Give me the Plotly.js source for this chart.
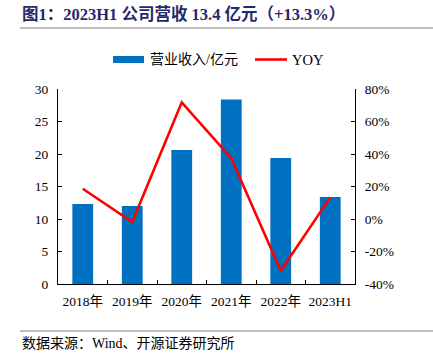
<!DOCTYPE html>
<html>
<head>
<meta charset="utf-8">
<script src="https://cdn.plot.ly/plotly-3.0.1.min.js"></script>
<style>html,body{margin:0;padding:0;background:#fff;}#chart{width:433px;height:357px;}</style>
</head>
<body>
<div id="chart"></div>
<script>
const categories = ["2018年", "2019年", "2020年", "2021年", "2022年", "2023H1"];
const revenue = [12.3, 12.0, 20.6, 28.4, 19.4, 13.4];
const yoy = [18.6, -1.9, 71.8, 37.4, -31.8, 13.3];
const leftTicks = [0, 5, 10, 15, 20, 25, 30];
const rightTicks = [-40, -20, 0, 20, 40, 60, 80];
const rightTickLabels = ["-40%", "-20%", "0%", "20%", "40%", "60%", "80%"];
const seriesNames = ["营业收入/亿元", "YOY"];
const titleText = "图1：2023H1 公司营收 13.4 亿元（+13.3%）";
const sourceText = "数据来源：Wind、开源证券研究所";

const serif = "'Liberation Serif', 'Times New Roman', 'Noto Sans CJK SC', serif";
const W = 433, H = 357, L = 58, R = 355, T = 89, B = 284;
const px = x => (x - L) / (R - L);
const py = y => (B - y) / (B - T);

const traces = [
  {type: "bar", x: categories, y: revenue, name: seriesNames[0], marker: {color: "#0070C0"}, width: 0.42, showlegend: false, hoverinfo: "skip"},
  {type: "scatter", mode: "lines", x: categories, y: yoy, name: seriesNames[1], yaxis: "y2", line: {color: "#FF0000", width: 2.6}, showlegend: false, hoverinfo: "skip"}
];

const layout = {
  width: W, height: H,
  margin: {l: L, r: W - R, t: T, b: H - B, pad: 0},
  paper_bgcolor: "#fff", plot_bgcolor: "#fff",
  font: {family: serif, size: 13, color: "#000"},
  showlegend: false,
  bargap: 0.58,
  xaxis: {type: "category", showline: true, linecolor: "#000", linewidth: 1, ticks: "inside", ticklen: 4, tickcolor: "#000", tickson: "boundaries", showgrid: false, zeroline: false, tickangle: 0, tickfont: {family: serif, size: 13.5}, automargin: false, ticklabelstandoff: 5},
  yaxis: {range: [0, 30], tickvals: leftTicks, showline: true, linecolor: "#000", linewidth: 1, ticks: "inside", ticklen: 4, tickcolor: "#000", showgrid: false, zeroline: false, tickfont: {family: serif, size: 13.5}, automargin: false, ticklabelstandoff: 6},
  yaxis2: {range: [-40, 80], tickvals: rightTicks, ticktext: rightTickLabels, overlaying: "y", side: "right", showline: true, linecolor: "#000", linewidth: 1, ticks: "inside", ticklen: 4, tickcolor: "#000", showgrid: false, zeroline: false, tickfont: {family: serif, size: 13.5}, automargin: false, ticklabelstandoff: 6},
  shapes: [
    {type: "line", xref: "paper", yref: "paper", x0: px(20), x1: px(433), y0: py(28), y1: py(28), line: {color: "#7f7f7f", width: 1}},
    {type: "line", xref: "paper", yref: "paper", x0: px(20), x1: px(433), y0: py(331), y1: py(331), line: {color: "#7f7f7f", width: 1}},
    {type: "rect", xref: "paper", yref: "paper", x0: px(113), x1: px(144), y0: py(63), y1: py(56), fillcolor: "#0070C0", line: {width: 0}},
    {type: "line", xref: "paper", yref: "paper", x0: px(255), x1: px(287), y0: py(59.5), y1: py(59.5), line: {color: "#FF0000", width: 2.6}}
  ],
  annotations: [
    {xref: "paper", yref: "paper", x: px(20), y: py(14), xanchor: "left", yanchor: "middle", showarrow: false, text: "<b>" + titleText + "</b>", font: {family: serif, size: 16.5, color: "#1F2A6B"}},
    {xref: "paper", yref: "paper", x: px(148), y: py(59.5), xanchor: "left", yanchor: "middle", showarrow: false, text: seriesNames[0], font: {family: serif, size: 14, color: "#000"}},
    {xref: "paper", yref: "paper", x: px(290), y: py(59.5), xanchor: "left", yanchor: "middle", showarrow: false, text: seriesNames[1], font: {family: serif, size: 14.5, color: "#000"}},
    {xref: "paper", yref: "paper", x: px(20), y: py(343), xanchor: "left", yanchor: "middle", showarrow: false, text: sourceText, font: {family: serif, size: 14, color: "#000"}}
  ]
};

Plotly.newPlot("chart", traces, layout, {staticPlot: true, displayModeBar: false});
</script>
</body>
</html>
